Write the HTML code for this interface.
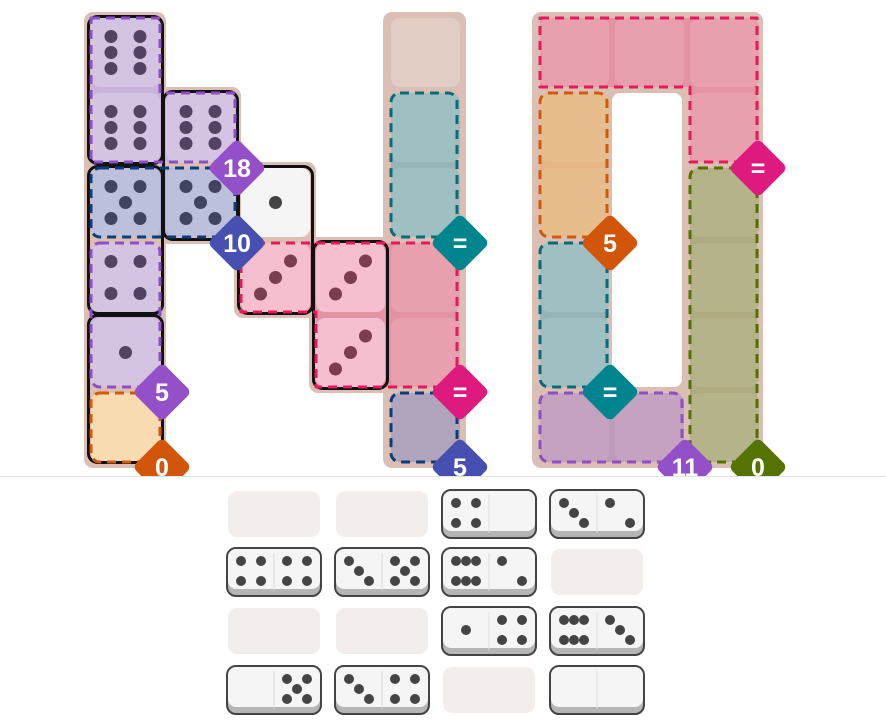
<!DOCTYPE html>
<html><head><meta charset="utf-8"><style>
html,body{margin:0;padding:0;background:#fff;}
svg{display:block;font-family:"Liberation Sans",sans-serif;}
</style></head><body>
<svg id="s" width="886" height="726" viewBox="0 0 886 726" xmlns="http://www.w3.org/2000/svg">
<defs><clipPath id="cb"><rect x="0" y="0" width="886" height="476"/></clipPath></defs>
<g id="board" clip-path="url(#cb)"></g>
<line x1="0" y1="476.5" x2="886" y2="476.5" stroke="#e2e2e2" stroke-width="1"/>
<g id="tray"></g>
<g id="labels" clip-path="url(#cb)" font-weight="bold" font-size="25" fill="#fff" text-anchor="middle">
<text x="237" y="177">18</text>
<text x="237" y="252">10</text>
<text x="162" y="401">5</text>
<text x="162" y="476">0</text>
<text x="460" y="252">=</text>
<text x="460" y="401">=</text>
<text x="460" y="476">5</text>
<text x="758" y="177">=</text>
<text x="610" y="252">5</text>
<text x="610" y="401">=</text>
<text x="685" y="476">11</text>
<text x="758" y="476">0</text>
</g>
</svg>
<script>
const NS="http://www.w3.org/2000/svg";
function el(p,t,a){const e=document.createElementNS(NS,t);for(const k in a)e.setAttribute(k,a[k]);p.appendChild(e);return e;}
const B=document.getElementById('board'),T=document.getElementById('tray');
const cellX=c=>c<5?88+75*c:537+75*(c-5);
const bg="#dbbfb5";
function bgRect(x1,y1,x2,y2){el(B,'rect',{x:x1,y:y1,width:x2-x1,height:y2-y1,rx:9,fill:bg});}
bgRect(84,12,166,468);bgRect(159,87,241,244);bgRect(234,162,316,318);bgRect(309,237,391,393);bgRect(383,12,466,468);
bgRect(532,12,763,468);
el(B,'rect',{x:612,y:93,width:70,height:294,rx:8,fill:'#fff'});
// region underlay fills
function fpoly(pts,f){el(B,'polygon',{points:pts,fill:f});}
function frect(x1,y1,x2,y2,f){el(B,'rect',{x:x1,y:y1,width:x2-x1,height:y2-y1,rx:9,fill:f});}
fpoly('91,18 160,18 160,93 235,93 235,162 91,162','#c9b3da');
frect(91,168,235,237,'#aeb2d2');
frect(91,243,160,387,'#c9b3da');
fpoly('241,243 457,243 457,387 316,387 316,312 241,312','#e493a4');
frect(391,93,457,237,'#97b5b8');
fpoly('540,18 757,18 757,162 690,162 690,87 540,87','#e493a4');
frect(540,93,607,237,'#e4b585');
frect(540,243,607,387,'#97b5b8');
frect(540,393,682,462,'#bf9bbb');
frect(690,168,757,462,'#aeab80');
function cell(c,r,f){const x=cellX(c),y=15+75*r;el(B,'rect',{x:x+3,y:y+3,width:69,height:69,rx:9,fill:f});}
const cells=[[0,0,'#d4c3e3'],[0,1,'#d4c3e3'],[1,1,'#d4c3e3'],[1,2,'#bcc0dd'],[0,2,'#bcc0dd'],[0,3,'#d4c3e3'],[0,4,'#d4c3e3'],[0,5,'#f8dbb0'],
[2,2,'#f5f5f5'],[2,3,'#f5bfd0'],[3,3,'#f5bfd0'],[3,4,'#f5bfd0'],[4,3,'#e89fae'],[4,4,'#e89fae'],[4,0,'#e2cdc5'],[4,1,'#9fbfc2'],[4,2,'#9fbfc2'],[4,5,'#b1a5bd'],
[5,0,'#e89fae'],[6,0,'#e89fae'],[7,0,'#e89fae'],[7,1,'#e89fae'],[5,1,'#e8bd8e'],[5,2,'#e8bd8e'],[5,3,'#9fbfc2'],[5,4,'#9fbfc2'],[5,5,'#c4a2c0'],[6,5,'#c4a2c0'],
[7,2,'#b5b38a'],[7,3,'#b5b38a'],[7,4,'#b5b38a'],[7,5,'#b5b38a']];
cells.forEach(a=>cell(...a));
function pips(cx,cy,n,dx,dy,r,col,g,diagFlip){
 let p=[];
 if(n==1)p=[[0,0]];
 if(n==2)p=[[-1,-1],[1,1]];
 if(n==3)p=diagFlip?[[-1,1],[0,0],[1,-1]]:[[-1,-1],[0,0],[1,1]];
 if(n==4)p=[[-1,-1],[1,-1],[-1,1],[1,1]];
 if(n==5)p=[[-1,-1],[1,-1],[0,0],[-1,1],[1,1]];
 if(n==6)p=g=='tray'?[[-1,-1],[0,-1],[1,-1],[-1,1],[0,1],[1,1]]:[[-1,-1],[1,-1],[-1,0],[1,0],[-1,1],[1,1]];
 const tgt=g=='tray'?T:B;
 p.forEach(([a,b])=>el(tgt,'circle',{cx:cx+a*dx,cy:cy+b*dy,r:r,fill:col}));
}
function bp(c,r,n,col){const x=cellX(c)+37.5,y=15+75*r+37.5;pips(x,y,n,n==3?15:14.5,n==3?16.5:16,6.5,col,'b',true);}
bp(0,0,6,'#534263');bp(0,1,6,'#534263');bp(1,1,6,'#534263');bp(1,2,5,'#41435f');bp(0,2,5,'#41435f');bp(0,3,4,'#534263');bp(0,4,1,'#534263');
bp(2,2,1,'#444');bp(2,3,3,'#7a3e50');bp(3,3,3,'#7a3e50');bp(3,4,3,'#7a3e50');
function dom(x1,y1,x2,y2){el(B,'rect',{x:x1+1.5,y:y1+1.5,width:x2-x1-3,height:y2-y1-3,rx:9,fill:'none',stroke:'#111','stroke-width':3});}
dom(87,15,164,165);dom(162,90,239,241);dom(87,165,164,315);dom(87,314,164,464);dom(237,165,314,315);dom(312,240,389,390);
function dash(pts,col){el(B,'polygon',{points:pts,fill:'none',stroke:col,'stroke-width':3,'stroke-dasharray':'9 6','stroke-linejoin':'round'});}
function drect(x1,y1,x2,y2,col){el(B,'rect',{x:x1,y:y1,width:x2-x1,height:y2-y1,rx:9,fill:'none',stroke:col,'stroke-width':3,'stroke-dasharray':'9 6'});}
dash('91,18 160,18 160,93 235,93 235,162 91,162','#8b4fc6');
drect(91,168,235,237,'#0a3d7a');
drect(91,243,160,387,'#8b4fc6');
drect(91,393,160,462,'#d05a0a');
dash('241,243 457,243 457,387 316,387 316,312 241,312','#e8185a');
drect(391,93,457,237,'#0a6b78');
drect(391,393,457,462,'#0a3d7a');
dash('540,18 757,18 757,162 690,162 690,87 540,87','#e8185a');
drect(540,93,607,237,'#d05a0a');
drect(540,243,607,387,'#0a6b78');
drect(540,393,682,462,'#8b4fc6');
drect(690,168,757,462,'#567000');
function badge(cx,cy,col){el(B,'rect',{x:cx-21,y:cy-21,width:42,height:42,rx:6,fill:col,transform:`rotate(45 ${cx} ${cy})`});}
badge(237,168,'#9450c8');badge(237,243,'#4750b0');badge(162,392,'#9450c8');badge(162,467,'#d2560a');
badge(460,243,'#00858f');badge(460,392,'#de1a7e');badge(460,467,'#4750b0');
badge(758,168,'#de1a7e');badge(610,243,'#d2560a');badge(610,392,'#00858f');badge(685,467,'#9450c8');badge(758,467,'#547300');
const TX=[228,336,443,551],TY=[491,549,608,667];
const tr=[[null,null,[4,0],[3,2]],[[4,4],[3,5],[6,2],null],[null,null,[1,4],[6,3]],[[0,5],[3,4],null,[0,0]]];
tr.forEach((row,i)=>row.forEach((d,j)=>{const x=TX[j],y=TY[i];
 if(!d){el(T,'rect',{x:x,y:y,width:92,height:46,rx:9,fill:'#f3eeec'});return;}
 el(T,'rect',{x:x-1,y:y-1,width:94,height:48,rx:9,fill:'#b5b5b5',stroke:'#444','stroke-width':2});
 el(T,'rect',{x:x,y:y,width:92,height:40,rx:8,fill:'#f5f5f5'});
 el(T,'line',{x1:x+46,y1:y+4,x2:x+46,y2:y+42,stroke:'#ddd','stroke-width':1});
 d.forEach((n,k)=>{const cx=x+23+k*46,cy=y+22;pips(cx,cy,n,10,10,5,'#444','tray',false);});
}));
</script>
</body></html>
